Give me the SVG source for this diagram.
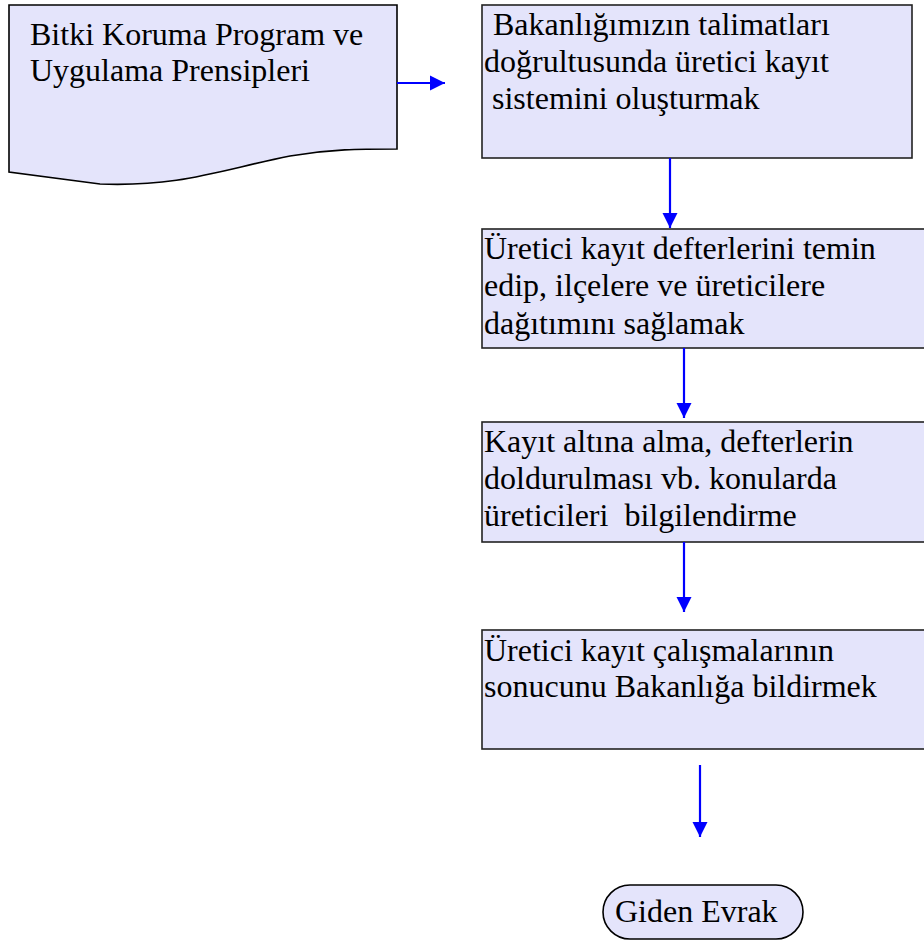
<svg xmlns="http://www.w3.org/2000/svg" width="924" height="940" viewBox="0 0 924 940">
<style>
.box{fill:#e4e4fb;stroke:#222;stroke-width:1.6}
.doc{fill:#e4e4fb;stroke:#000;stroke-width:1.6}
.t{font-family:"Liberation Serif","Times New Roman",serif;font-size:32px;fill:#000}
.c{stroke:#0000ff;stroke-width:2.2;fill:none}
</style>
<defs>
<marker id="ah" markerWidth="16" markerHeight="16" viewBox="0 0 16 16" refX="15" refY="8" orient="auto" markerUnits="userSpaceOnUse">
<path d="M0,0.5 L15,8 L0,15.5 Z" fill="#0000ff"/>
</marker>
</defs>
<rect width="924" height="940" fill="#fff"/>
<g id="node-doc">
<path class="doc" d="M9,5 L397,5 L397,149 C360,149 330,149 290,156 C220,170 180,187 100,184 L9,172 Z"/>
<text class="t" x="30" y="45">Bitki Koruma Program ve</text>
<text class="t" x="30" y="81">Uygulama Prensipleri</text>
</g>
<g id="node-1">
<rect class="box" x="482" y="5" width="430" height="153"/>
<text class="t" x="493" y="35">Bakanlığımızın talimatları</text>
<text class="t" x="484" y="72">doğrultusunda üretici kayıt</text>
<text class="t" x="492" y="109">sistemini oluşturmak</text>
</g>
<g id="node-2">
<rect class="box" x="482" y="229" width="450" height="119"/>
<text class="t" x="484" y="259">Üretici kayıt defterlerini temin</text>
<text class="t" x="484" y="296">edip, ilçelere ve üreticilere</text>
<text class="t" x="484" y="334">dağıtımını sağlamak</text>
</g>
<g id="node-3">
<rect class="box" x="482" y="422" width="450" height="120"/>
<text class="t" x="484" y="452">Kayıt altına alma, defterlerin</text>
<text class="t" x="484" y="489">doldurulması vb. konularda</text>
<text class="t" x="484" y="526" xml:space="preserve">üreticileri  bilgilendirme</text>
</g>
<g id="node-4">
<rect class="box" x="482" y="630" width="450" height="119"/>
<text class="t" x="484" y="661">Üretici kayıt çalışmalarının</text>
<text class="t" x="484" y="697">sonucunu Bakanlığa bildirmek</text>
</g>
<g id="node-end">
<rect class="doc" x="603" y="885" width="200" height="54" rx="27" ry="27"/>
<text class="t" x="615" y="922">Giden Evrak</text>
</g>
<g id="connectors">
<line class="c" x1="397" y1="83" x2="445" y2="83" marker-end="url(#ah)"/>
<line class="c" x1="670" y1="158" x2="670" y2="228" marker-end="url(#ah)"/>
<line class="c" x1="684" y1="348" x2="684" y2="418" marker-end="url(#ah)"/>
<line class="c" x1="684" y1="542" x2="684" y2="612" marker-end="url(#ah)"/>
<line class="c" x1="700" y1="765" x2="700" y2="837" marker-end="url(#ah)"/>
</g>
</svg>
